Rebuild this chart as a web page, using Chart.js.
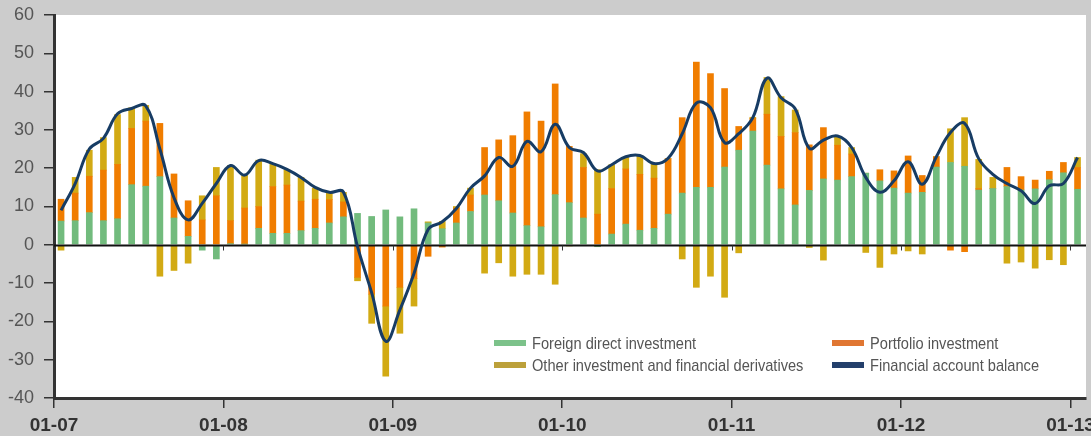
<!DOCTYPE html>
<html><head><meta charset="utf-8">
<style>html,body{margin:0;padding:0;background:#cccccc;overflow:hidden;} canvas{display:block;}</style>
<script src="https://cdn.jsdelivr.net/npm/chart.js@4.4.1/dist/chart.umd.min.js"></script>
</head><body>
<canvas id="c" width="1091" height="436"></canvas>
<script>
// Year tick labels (placed at the start of each January)
const tickLabels = ['01-07','01-08','01-09','01-10','01-11','01-12','01-13'];

// Monthly flows, Jan 2007 .. Jan 2013
const fdi = [6.2,6.3,8.4,6.3,6.8,15.7,15.3,17.8,7.0,2.2,-1.4,-3.7,
  0.3,0.2,4.3,3.0,3.0,3.7,4.3,5.7,7.3,8.2,7.4,9.1,
  7.3,9.4,5.7,4.2,5.7,8.7,13.0,11.5,8.3,5.0,4.7,13.1,
  11.0,7.0,-0.5,2.8,5.4,3.8,4.3,8.0,13.5,15.0,15.0,20.3,
  24.7,29.7,20.8,14.6,10.4,14.2,17.2,16.9,17.8,18.7,16.7,14.8,
  13.5,13.7,20.3,21.5,20.5,14.3,14.7,15.2,14.3,14.6,17.0,18.8,
  14.5];
const portfolio = [5.7,7.2,9.5,13.2,14.2,14.7,17.0,13.9,11.5,9.3,6.5,12.8,
  6.0,9.4,5.7,12.2,12.6,7.7,7.6,6.1,3.9,-8.5,-12.9,-16.0,
  -11.1,-8.8,-3.0,-0.6,3.9,4.3,12.4,15.9,20.2,29.7,27.6,28.9,
  14.7,13.2,8.0,11.9,14.4,14.6,13.1,14.5,19.7,32.7,29.7,20.5,
  6.2,3.3,13.3,13.7,18.9,11.9,13.4,9.1,5.9,0,2.9,4.5,
  9.7,4.4,2.7,-1.4,-1.8,0.4,0,5.0,3.5,2.3,2.2,2.7,
  5.7];
const other = [-1.4,4.1,6.8,8.5,13.0,5.4,4.1,-8.2,-6.7,-4.8,6.3,7.4,
  14.4,8.8,12.1,6.0,4.0,6.2,2.9,1.9,2.5,-0.9,-7.6,-18.3,
  -12.0,-7.2,0.3,1.9,0.4,1.8,-7.4,-4.7,-8.2,-7.7,-7.7,-10.3,
  -0.3,3.6,11.6,6.2,3.0,4.7,3.6,0,-3.7,-11.1,-8.2,-13.7,
  -2.1,0.3,9.6,10.4,5.9,-0.7,-4.0,2.3,1.7,-2.0,-5.9,-2.4,
  -1.6,-2.4,0,8.8,12.7,7.6,2.9,-4.8,-4.5,-6.1,-3.9,-5.2,
  2.6];
const balance = [9.0,16.0,25.0,27.8,34.2,35.6,36.3,25.0,12.3,6.5,10.8,16.0,
  20.7,18.2,22.0,21.2,19.7,17.6,15.0,13.7,13.8,-0.5,-12.5,-25.2,
  -17.0,-7.5,4.0,6.0,9.5,14.8,18.0,22.8,20.5,27.0,24.3,31.5,
  25.4,24.1,19.3,20.9,23.0,23.3,21.2,22.6,29.0,37.0,35.8,26.7,
  29.0,33.2,43.5,38.4,35.5,25.2,27.3,28.4,25.4,17.6,13.7,16.7,
  21.7,15.8,23.0,29.3,31.7,22.5,18.4,16.0,14.1,10.8,15.4,16.0,
  22.8];

const seriesNames = ['Foreign direct investment','Portfolio investment',
  'Other investment and financial derivatives','Financial account balance'];

const FONT = '"Liberation Sans",Arial,sans-serif';
const toPts = arr => arr.map((v, i) => ({x: i + 0.5, y: v}));

const bgPlugin = {
  id: 'bg',
  beforeDraw(chart) {
    const {ctx, chartArea: a} = chart;
    ctx.save();
    ctx.fillStyle = '#ffffff';
    ctx.fillRect(a.left, a.top, a.right - a.left, a.bottom - a.top);
    ctx.restore();
  }
};

const zeroPlugin = {
  id: 'zero',
  beforeDatasetDraw(chart, args) {
    if (args.index !== 3) return;
    const {ctx, chartArea: a, scales} = chart;
    const y0 = Math.round(scales.y.getPixelForValue(0)) + 0.5;
    ctx.save();
    ctx.strokeStyle = '#111';
    ctx.lineWidth = 2;
    ctx.beginPath();
    ctx.moveTo(a.left, y0); ctx.lineTo(a.right, y0);
    ctx.stroke();
    ctx.lineWidth = 1;
    ctx.strokeStyle = '#333';
    tickLabels.forEach((_, k) => {
      const x = Math.round(scales.x.getPixelForValue(k * 12)) + 0.5;
      if (x <= a.left + 2) return;
      ctx.beginPath(); ctx.moveTo(x, y0); ctx.lineTo(x, y0 + 5); ctx.stroke();
    });
    ctx.restore();
  }
};

const legendPlugin = {
  id: 'customLegend',
  afterDraw(chart) {
    const {ctx} = chart;
    const items = [
      {i: 0, x: 494, y: 343, c: '#7cc28a'},
      {i: 1, x: 832, y: 343, c: '#e07632'},
      {i: 2, x: 494, y: 365, c: '#bca03a'},
      {i: 3, x: 832, y: 365, c: '#233f6b'}
    ];
    ctx.save();
    ctx.font = '17px ' + FONT;
    ctx.textBaseline = 'middle';
    items.forEach(it => {
      ctx.fillStyle = it.c;
      ctx.fillRect(it.x, it.y - 3, 32, 6);
      ctx.fillStyle = '#555';
      ctx.save();
      ctx.translate(it.x + 38, it.y + 1);
      ctx.scale(0.86, 1);
      ctx.fillText(chart.data.datasets[it.i].label, 0, 0);
      ctx.restore();
    });
    ctx.restore();
  }
};

new Chart(document.getElementById('c'), {
  type: 'bar',
  data: {
    datasets: [
      {label: seriesNames[0], data: toPts(fdi), backgroundColor: '#72bb7d', stack: 'flows', order: 1, barThickness: 6},
      {label: seriesNames[1], data: toPts(portfolio), backgroundColor: '#f07d00', stack: 'flows', order: 1, barThickness: 6},
      {label: seriesNames[2], data: toPts(other), backgroundColor: '#d2aa14', stack: 'flows', order: 1, barThickness: 6},
      {label: seriesNames[3], type: 'line', data: toPts(balance), borderColor: '#173c64', borderWidth: 3,
       pointRadius: 0, tension: 0.4, fill: false, stack: 'bal', order: 0}
    ]
  },
  options: {
    responsive: false,
    animation: false,
    devicePixelRatio: 1,
    layout: {padding: {top: 15, right: 5, left: 0, bottom: 0}},
    plugins: {legend: {display: false}, tooltip: {enabled: false}},
    scales: {
      x: {
        type: 'linear', min: 0, max: 73.1, stacked: true, offset: false,
        afterBuildTicks: s => { s.ticks = tickLabels.map((_, k) => ({value: k * 12})); },
        afterFit: s => { s.height = 38; s.paddingLeft = 0; s.paddingRight = 0; },
        ticks: {
          autoSkip: false, maxRotation: 0, padding: 6,
          callback: v => tickLabels[Math.round(v / 12)],
          font: {family: FONT, size: 19, weight: 'bold'}, color: '#333'
        },
        grid: {offset: false, drawOnChartArea: false, drawTicks: true, tickLength: 10, color: '#333', lineWidth: 1.5},
        border: {display: true, color: '#333', width: 3}
      },
      y: {
        min: -40, max: 60, stacked: true,
        afterFit: s => { s.width = 54; s.paddingTop = 0; s.paddingBottom = 0; },
        ticks: {stepSize: 10, padding: 10, font: {family: FONT, size: 18}, color: '#555'},
        grid: {drawOnChartArea: false, drawTicks: true, tickLength: 10, color: '#333', lineWidth: 1.5},
        border: {display: true, color: '#333', width: 3}
      }
    }
  },
  plugins: [bgPlugin, zeroPlugin, legendPlugin]
});
</script>
</body></html>
